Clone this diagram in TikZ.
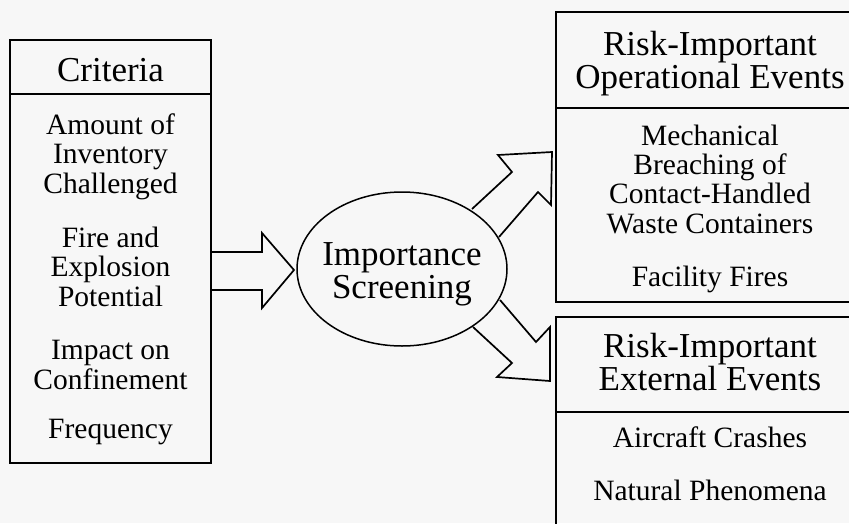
\documentclass[tikz,border=0pt]{standalone}
\usepackage{fontspec}
\setmainfont{Liberation Serif}
\usetikzlibrary{shapes.geometric}
\begin{document}
\begin{tikzpicture}[x=1pt,y=-1pt,
  frame/.style={draw=black,line width=1.7pt},
  blockarrow/.style={draw=black,line width=1.7pt,line join=miter},
  headtxt/.style={align=center,anchor=base,inner sep=0pt,font=\fontsize{35}{33}\selectfont},
  bodytxt/.style={align=center,anchor=base,inner sep=0pt,font=\fontsize{29.5}{29.3}\selectfont}]
  % page area
  \fill[white!97!black] (0,0) rectangle (849,523);
  \clip (0,0) rectangle (849,523);

  % criteria column (node anchors sit on the last baseline)
  \draw[frame] (10,40) rectangle (211,463);
  \draw[frame] (10,94) -- (211,94);
  \node[headtxt] (crit) at (110.5,81) {Criteria};
  \node[bodytxt] (c1) at (110.5,193) {Amount of\\Inventory\\Challenged};
  \node[bodytxt] (c2) at (110.5,306) {Fire and\\Explosion\\Potential};
  \node[bodytxt] (c3) at (110.5,389) {Impact on\\Confinement};
  \node[bodytxt] (c4) at (110.5,438) {Frequency};

  % screening step
  \node[draw=black,line width=1.5pt,ellipse,minimum width=210pt,minimum height=154pt,inner sep=0pt] (screen) at (402,269) {};
  \node[headtxt] (screentxt) at (402,298) {Importance\\Screening};

  % operational events column
  \draw[frame] (556,12) rectangle (866,302);
  \draw[frame] (556,108) -- (866,108);
  \node[headtxt] (op) at (710,88) {Risk-Important\\Operational Events};
  \node[bodytxt] (op1) at (710,233) {Mechanical\\Breaching of\\Contact-Handled\\Waste Containers};
  \node[bodytxt] (op2) at (710,286) {Facility Fires};

  % external events column
  \draw[frame] (556,317) rectangle (866,540);
  \draw[frame] (556,412) -- (866,412);
  \node[headtxt] (ex) at (710,390) {Risk-Important\\External Events};
  \node[bodytxt] (ex1) at (710,447) {Aircraft Crashes};
  \node[bodytxt] (ex2) at (710,500) {Natural Phenomena};

  % block arrows
  \draw[blockarrow] (211,252) -- (262,252) -- (262,233) -- (294,270) -- (262,308) -- (262,290) -- (211,290);
  \draw[blockarrow] (472,209) -- (512,172) -- (498,155) -- (552,152) -- (551,205) -- (538,192) -- (499,237);
  \draw[blockarrow] (500,300) -- (536,342) -- (550,327) -- (550,381) -- (497,377) -- (512,363) -- (473,327);
\end{tikzpicture}
\end{document}
